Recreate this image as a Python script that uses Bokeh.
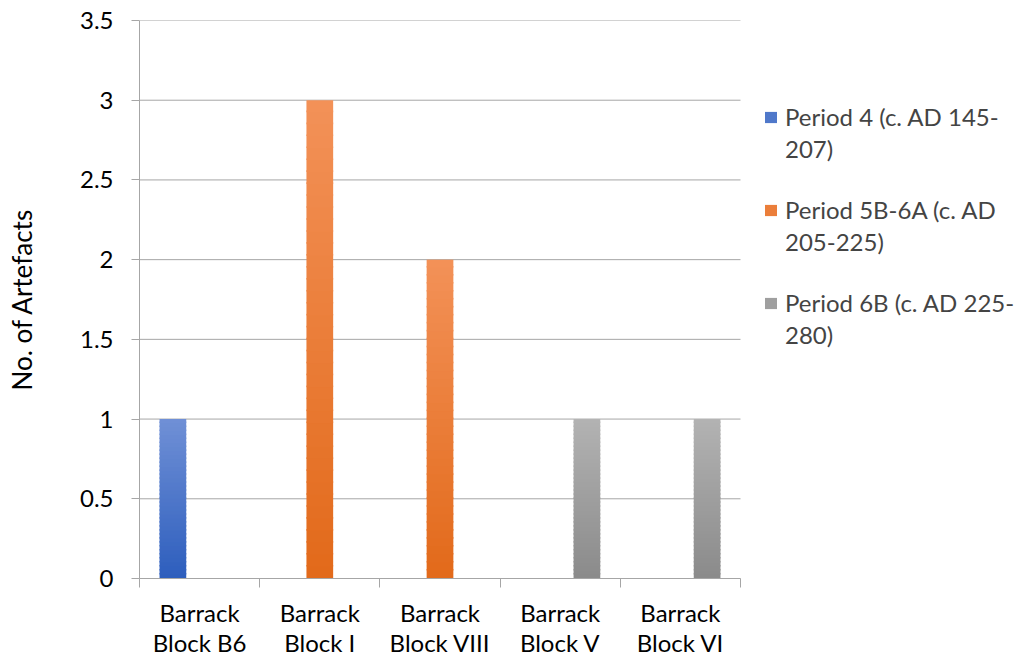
import numpy as np
from bokeh.plotting import figure
from bokeh.models import (FixedTicker, Legend, LegendItem, ColumnDataSource, Range1d)
from bokeh.embed import file_html
from bokeh.resources import INLINE

# ---- data ----
categories = ["Barrack\nBlock B6", "Barrack\nBlock I", "Barrack\nBlock VIII",
              "Barrack\nBlock V", "Barrack\nBlock VI"]
series_names = ["Period 4 (c. AD 145-\n207)", "Period 5B-6A (c. AD\n205-225)",
                "Period 6B (c. AD 225-\n280)"]
period4 = [1, 0, 0, 0, 0]
period5b6a = [0, 3, 2, 0, 0]
period6b = [0, 0, 0, 1, 1]
y_ticks = [0, 0.5, 1, 1.5, 2, 2.5, 3, 3.5]
y_tick_labels = ["0", "0.5", "1", "1.5", "2", "2.5", "3", "3.5"]

series_values = [period4, period5b6a, period6b]
# gradient colours (top, bottom) per series
grad = [("#7090d6", "#2d5ebd"), ("#f39258", "#e2691a"), ("#b3b3b3", "#8a8a8a")]

FONT = "Lato"
GRAY = "#a6a6a6"

W, H = 1018, 659
FL, FT, FR, FB = 139, 20, 740, 578       # plot-area box of the bar region
ncat = len(categories)
x_end = ncat * (W - FL) / (FR - FL)       # frame extends to the right edge (legend area)

p = figure(width=W, height=H, output_backend="svg", toolbar_location=None,
           x_range=Range1d(0, x_end), y_range=Range1d(0, 3.5),
           min_border_left=FL, min_border_right=0, min_border_top=FT,
           min_border_bottom=H - FB)
p.outline_line_color = None
p.background_fill_color = "white"
p.xgrid.grid_line_color = None
p.ygrid.grid_line_color = None

# horizontal gridlines only over the category area
p.segment(x0=[0] * len(y_ticks), x1=[ncat] * len(y_ticks), y0=y_ticks, y1=y_ticks,
          line_color=GRAY, line_width=1)

def hex2rgb(h):
    h = h.lstrip("#")
    return np.array([int(h[i:i + 2], 16) for i in (0, 2, 4)], dtype=float)

def rgb2hex(c):
    return "#%02x%02x%02x" % tuple(int(round(v)) for v in c)

nser = len(series_values)
gap = 1.5
bw = 1.0 / (nser + gap)
N = 40
eps = 0.01
renderers = []
for s, vals in enumerate(series_values):
    top_c, bot_c = hex2rgb(grad[s][0]), hex2rgb(grad[s][1])
    xs, bots, tops, cols = [], [], [], []
    for i, v in enumerate(vals):
        if v <= 0:
            continue
        xc = i + 0.5 + (s - (nser - 1) / 2) * bw
        for k in range(N):
            t0, t1 = k / N, (k + 1) / N
            xs.append(xc)
            bots.append(v * t0)
            tops.append(min(v, v * t1 + eps))
            cols.append(rgb2hex(bot_c + (top_c - bot_c) * (t0 + t1) / 2))
    src = ColumnDataSource(dict(x=xs, bottom=bots, top=tops, color=cols))
    r = p.vbar(x="x", top="top", bottom="bottom", width=bw, source=src,
               fill_color="color", line_color=None)
    renderers.append(r)

# invisible renderer used by the glyph-less second-line legend
ghost = p.vbar(x=[], top=[], width=bw, fill_alpha=0, line_alpha=0)

# y axis
p.yaxis.ticker = FixedTicker(ticks=y_ticks)
p.yaxis.major_label_overrides = {t: l for t, l in zip(y_ticks, y_tick_labels)}
p.yaxis.axis_line_color = GRAY
p.yaxis.major_tick_line_color = GRAY
p.yaxis.major_tick_out = 8
p.yaxis.major_tick_in = 0
p.yaxis.minor_tick_line_color = None
p.yaxis.major_label_text_font = FONT
p.yaxis.major_label_text_font_size = "24px"
p.yaxis.major_label_text_color = "black"
p.yaxis.major_label_standoff = 18
p.yaxis.axis_label = "No. of Artefacts"
p.yaxis.axis_label_text_font = FONT
p.yaxis.axis_label_text_font_size = "26px"
p.yaxis.axis_label_text_font_style = "normal"
p.yaxis.axis_label_text_color = "black"
p.yaxis.axis_label_standoff = 39

# x axis
xt = [i + 0.5 for i in range(ncat)]
p.xaxis.bounds = (0, ncat)
p.xaxis.ticker = FixedTicker(ticks=xt, minor_ticks=list(range(ncat + 1)))
p.xaxis.major_label_overrides = {t: c for t, c in zip(xt, categories)}
p.xaxis.axis_line_color = GRAY
p.xaxis.major_tick_line_color = None
p.xaxis.minor_tick_line_color = GRAY
p.xaxis.minor_tick_out = 9
p.xaxis.minor_tick_in = 0
p.xaxis.major_label_text_font = FONT
p.xaxis.major_label_text_font_size = "24px"
p.xaxis.major_label_text_line_height = 1.04
p.xaxis.major_label_text_color = "black"
p.xaxis.major_label_standoff = 10

# legend: first lines with swatches, second lines in a glyph-less legend below
first = [n.split("\n")[0] for n in series_names]
second = [n.split("\n")[1] for n in series_names]
item_h, pitch, line_gap = 29, 93, 32
spacing = pitch - item_h
leg_h = nser * item_h + (nser - 1) * spacing
top1 = 116.5 - item_h / 2
sw_x = 763 - FL

common = dict(padding=0, margin=0, spacing=spacing, label_height=item_h,
              label_text_font=FONT, label_text_font_size="24px",
              label_text_line_height=1.0, border_line_color=None,
              background_fill_alpha=0)
leg1 = Legend(items=[LegendItem(label=first[s], renderers=[renderers[s]], index=N // 2)
                     for s in range(nser)],
              location=(sw_x, FB - top1 - leg_h), glyph_width=15, glyph_height=14,
              label_standoff=7, **common)
leg2 = Legend(items=[LegendItem(label=second[s], renderers=[ghost])
                     for s in range(nser)],
              location=(sw_x + 15 + 6, FB - (top1 + line_gap) - leg_h), glyph_width=1,
              glyph_height=1, label_standoff=0, **common)
p.add_layout(leg1)
p.add_layout(leg2)

open("out.html", "w").write(file_html(p, INLINE))
